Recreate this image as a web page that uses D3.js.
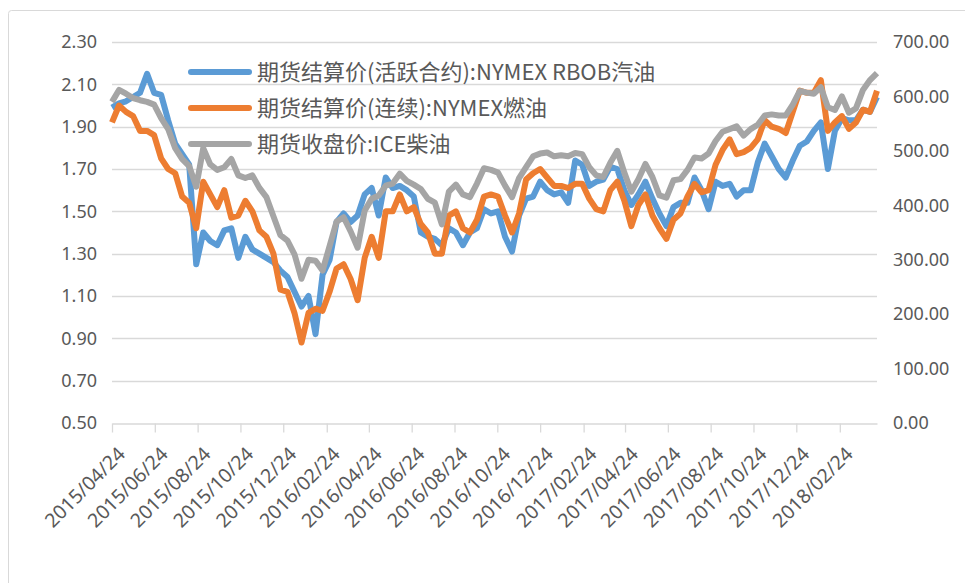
<!DOCTYPE html>
<html>
<head>
<meta charset="utf-8">
<script src="https://cdn.jsdelivr.net/npm/d3@7"></script>
<style>
  body { margin: 0; background: #fff; }
  svg { display: block; }
  text { fill: #595959; }
</style>
</head>
<body>
<div id="chart"></div>
<script>
// sampled roughly every 10 days
const dates = [
  "2015-04-24","2015-05-04","2015-05-14","2015-05-24","2015-06-03","2015-06-13","2015-06-23","2015-07-03","2015-07-13","2015-07-23",
  "2015-08-02","2015-08-12","2015-08-22","2015-09-01","2015-09-11","2015-09-21","2015-10-01","2015-10-11","2015-10-21","2015-10-31",
  "2015-11-10","2015-11-20","2015-11-30","2015-12-10","2015-12-20","2015-12-30","2016-01-09","2016-01-19","2016-01-29","2016-02-08",
  "2016-02-18","2016-02-28","2016-03-09","2016-03-19","2016-03-29","2016-04-08","2016-04-18","2016-04-28","2016-05-08","2016-05-18",
  "2016-05-28","2016-06-07","2016-06-17","2016-06-27","2016-07-07","2016-07-17","2016-07-27","2016-08-06","2016-08-16","2016-08-26",
  "2016-09-05","2016-09-15","2016-09-25","2016-10-05","2016-10-15","2016-10-25","2016-11-04","2016-11-14","2016-11-24","2016-12-04",
  "2016-12-14","2016-12-24","2017-01-03","2017-01-13","2017-01-23","2017-02-02","2017-02-12","2017-02-22","2017-03-04","2017-03-14",
  "2017-03-24","2017-04-03","2017-04-13","2017-04-23","2017-05-03","2017-05-13","2017-05-23","2017-06-02","2017-06-12","2017-06-22",
  "2017-07-02","2017-07-12","2017-07-22","2017-08-01","2017-08-11","2017-08-21","2017-08-31","2017-09-10","2017-09-20","2017-09-30",
  "2017-10-10","2017-10-20","2017-10-30","2017-11-09","2017-11-19","2017-11-29","2017-12-09","2017-12-19","2017-12-29","2018-01-08",
  "2018-01-18","2018-01-28","2018-02-07","2018-02-17","2018-02-27","2018-03-09","2018-03-19","2018-03-29","2018-04-08","2018-04-18"
];

// NYMEX RBOB gasoline, left axis
const rbob = [
  1.99,2.01,2.02,2.04,2.06,2.15,2.06,2.05,1.93,1.82,
  1.77,1.72,1.25,1.40,1.36,1.34,1.41,1.42,1.28,1.38,
  1.32,1.30,1.28,1.26,1.22,1.19,1.12,1.05,1.10,0.92,
  1.20,1.27,1.45,1.49,1.45,1.48,1.58,1.61,1.48,1.66,
  1.61,1.62,1.60,1.57,1.40,1.38,1.37,1.34,1.42,1.40,
  1.34,1.40,1.42,1.51,1.49,1.50,1.38,1.31,1.48,1.56,
  1.57,1.64,1.60,1.58,1.59,1.54,1.74,1.72,1.62,1.64,
  1.65,1.71,1.70,1.60,1.53,1.58,1.64,1.56,1.49,1.43,
  1.52,1.54,1.54,1.66,1.60,1.51,1.64,1.62,1.63,1.57,
  1.60,1.60,1.73,1.82,1.76,1.70,1.66,1.74,1.81,1.83,
  1.88,1.92,1.70,1.88,1.94,1.93,1.93,1.98,1.97,2.04
];

// NYMEX heating oil (continuous), left axis
const heatingOil = [
  1.92,2.00,1.97,1.95,1.88,1.88,1.86,1.75,1.70,1.68,
  1.57,1.54,1.42,1.64,1.58,1.52,1.60,1.47,1.48,1.55,
  1.50,1.41,1.38,1.30,1.13,1.12,1.02,0.88,1.02,1.04,
  1.03,1.12,1.23,1.25,1.18,1.08,1.28,1.38,1.28,1.50,
  1.50,1.58,1.50,1.52,1.44,1.40,1.30,1.30,1.48,1.50,
  1.42,1.40,1.46,1.57,1.58,1.57,1.48,1.40,1.49,1.65,
  1.68,1.70,1.66,1.62,1.62,1.61,1.63,1.63,1.56,1.51,
  1.50,1.60,1.64,1.55,1.43,1.53,1.58,1.48,1.42,1.37,
  1.46,1.49,1.57,1.63,1.59,1.60,1.72,1.79,1.84,1.77,
  1.78,1.80,1.84,1.93,1.90,1.89,1.87,1.97,2.07,2.06,
  2.06,2.12,1.88,1.92,1.95,1.89,1.92,1.98,1.97,2.07
];

// ICE gasoil close, right axis
const gasoil = [
  590,612,605,597,593,590,585,560,540,505,
  485,472,434,505,475,465,470,485,455,450,
  455,432,415,380,345,335,310,265,300,298,
  280,325,370,378,352,322,390,412,418,436,
  440,458,445,438,430,412,405,365,425,438,
  420,415,440,468,465,460,436,415,450,470,
  490,495,497,490,492,490,496,494,470,455,
  452,478,500,460,425,448,476,452,418,414,
  446,448,465,488,486,495,518,535,540,545,
  528,540,548,565,567,565,565,585,610,607,
  605,617,580,575,600,570,578,612,630,643
];

const seriesNames = ["期货结算价(活跃合约):NYMEX RBOB汽油", "期货结算价(连续):NYMEX燃油", "期货收盘价:ICE柴油"];
const colors = ["#5b9bd5", "#ed7d31", "#a5a5a5"];

const leftTicks = [0.5, 0.7, 0.9, 1.1, 1.3, 1.5, 1.7, 1.9, 2.1, 2.3];
const rightTicks = [0, 100, 200, 300, 400, 500, 600, 700];
const xTicks = ["2015-04-24","2015-06-24","2015-08-24","2015-10-24","2015-12-24","2016-02-24","2016-04-24","2016-06-24","2016-08-24",
  "2016-10-24","2016-12-24","2017-02-24","2017-04-24","2017-06-24","2017-08-24","2017-10-24","2017-12-24","2018-02-24"];

const W = 965, H = 583;
const plot = {left: 112, right: 877, top: 42, bottom: 423};
const parse = d3.timeParse("%Y-%m-%d");

const svg = d3.select("#chart").append("svg")
  .attr("width", W)
  .attr("height", H);

// outer chart border
svg.append("rect")
  .attr("x", 8.5).attr("y", 10.5)
  .attr("width", 980).attr("height", 600)
  .attr("rx", 3)
  .attr("fill", "none")
  .attr("stroke", "#d9d9d9");

const x = d3.scaleTime()
  .domain([parse("2015-04-24"), parse("2018-04-18")])
  .range([plot.left, plot.right]);

const yL = d3.scaleLinear().domain([0.5, 2.3]).range([plot.bottom, plot.top]);
const yR = d3.scaleLinear().domain([0, 700]).range([plot.bottom, plot.top]);

// gridlines
svg.append("g")
  .selectAll("line")
  .data(leftTicks.slice(1))
  .join("line")
  .attr("x1", plot.left).attr("x2", plot.right)
  .attr("y1", d => Math.round(yL(d)) + 0.5)
  .attr("y2", d => Math.round(yL(d)) + 0.5)
  .attr("stroke", "#d9d9d9")
  .attr("stroke-width", 1.3);

// left axis
const gL = svg.append("g")
  .attr("transform", `translate(${plot.left},0)`)
  .call(d3.axisLeft(yL).tickValues(leftTicks).tickFormat(d3.format(".2f")).tickSize(0).tickPadding(15));
gL.select(".domain").remove();
gL.selectAll("text")
  .style("font-family", "'Noto Sans', 'Open Sans', sans-serif")
  .style("font-size", "18px")
  .attr("fill", "#595959");

// right axis
const gR = svg.append("g")
  .attr("transform", `translate(${plot.right},0)`)
  .call(d3.axisRight(yR).tickValues(rightTicks).tickFormat(d3.format(".2f")).tickSize(0).tickPadding(16));
gR.select(".domain").remove();
gR.selectAll("text")
  .style("font-family", "'Noto Sans', 'Open Sans', sans-serif")
  .style("font-size", "18px")
  .attr("fill", "#595959");

// bottom axis
const gB = svg.append("g")
  .attr("transform", `translate(0,${Math.round(plot.bottom) + 0.5})`)
  .call(d3.axisBottom(x).tickValues(xTicks.map(parse)).tickFormat(d3.timeFormat("%Y/%m/%d")).tickSize(9).tickSizeOuter(0));
gB.select(".domain").attr("stroke", "#d9d9d9").attr("stroke-width", 1.3);
gB.selectAll(".tick line").attr("stroke", "#d9d9d9").attr("stroke-width", 1.3);
gB.selectAll("text")
  .style("font-family", "'Noto Sans', 'Open Sans', sans-serif")
  .style("font-size", "19.5px")
  .attr("fill", "#595959")
  .attr("text-anchor", "end")
  .attr("dy", "0.35em")
  .attr("transform", "translate(9,27) rotate(-45)")
  .attr("x", 0).attr("y", 0);

// lines
const points = dates.map(parse);
const lineL = d3.line().x((d, i) => x(points[i])).y(d => yL(d));
const lineR = d3.line().x((d, i) => x(points[i])).y(d => yR(d));

svg.append("path").datum(rbob)
  .attr("d", lineL).attr("fill", "none")
  .attr("stroke", colors[0]).attr("stroke-width", 6).attr("stroke-linejoin", "round");
svg.append("path").datum(heatingOil)
  .attr("d", lineL).attr("fill", "none")
  .attr("stroke", colors[1]).attr("stroke-width", 6).attr("stroke-linejoin", "round");
svg.append("path").datum(gasoil)
  .attr("d", lineR).attr("fill", "none")
  .attr("stroke", colors[2]).attr("stroke-width", 6).attr("stroke-linejoin", "round");

// legend
const legend = svg.selectAll(".legend")
  .data(seriesNames)
  .join("g")
  .attr("class", "legend")
  .attr("transform", (d, i) => `translate(191,${72 + i * 36})`);

legend.append("line")
  .attr("x1", 0).attr("x2", 58)
  .attr("stroke", (d, i) => colors[i])
  .attr("stroke-width", 6)
  .attr("stroke-linecap", "round");

legend.append("text")
  .attr("x", 66)
  .attr("dy", "0.35em")
  .style("font-family", "'Noto Sans CJK SC', sans-serif")
  .style("font-size", "22px")
  .attr("fill", "#595959")
  .text(d => d);
</script>
</body>
</html>
